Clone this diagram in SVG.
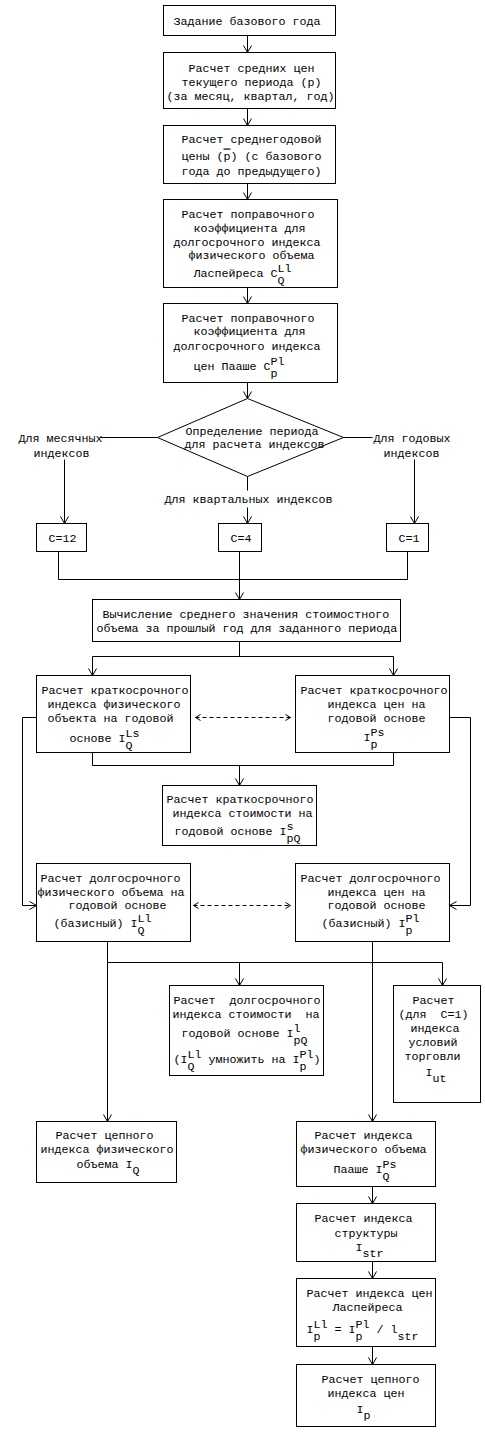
<svg xmlns="http://www.w3.org/2000/svg" width="485" height="1433" viewBox="0 0 485 1433">
<style>
.b{fill:#fff;stroke:#000;stroke-width:1}
.l{fill:none;stroke:#000;stroke-width:1}
.a{marker-end:url(#ah)}
.d{fill:none;stroke:#000;stroke-width:1;stroke-dasharray:4 3;marker-start:url(#ds);marker-end:url(#de)}
text{font-family:"Liberation Mono","DejaVu Sans Mono",monospace;font-size:11.67px;fill:#000}
</style>
<defs>
<marker id="ah" markerUnits="userSpaceOnUse" markerWidth="12" markerHeight="12" viewBox="0 0 12 12" refX="9" refY="6" orient="auto"><path d="M2,2 L9,6 L2,10" fill="none" stroke="#000" stroke-width="1"/></marker>
<marker id="de" markerUnits="userSpaceOnUse" markerWidth="10" markerHeight="10" viewBox="0 0 10 10" refX="7" refY="5" orient="auto"><path d="M2,2 L7,5 L2,8" fill="none" stroke="#000" stroke-width="1"/></marker>
<marker id="ds" markerUnits="userSpaceOnUse" markerWidth="10" markerHeight="10" viewBox="0 0 10 10" refX="3" refY="5" orient="auto"><path d="M8,2 L3,5 L8,8" fill="none" stroke="#000" stroke-width="1"/></marker>
</defs>
<rect width="485" height="1433" fill="#fff"/>
<g transform="translate(0.5,0.5)">
<g id="connectors">
<path class="l a" d="M247,35 V52"/>
<path class="l a" d="M247,108 V125"/>
<path class="l a" d="M247,183 V199"/>
<path class="l a" d="M247,287 V303"/>
<path class="l a" d="M247,382 V398"/>
<path class="l" d="M157,437 H100"/>
<path class="l a" d="M64,459 V523"/>
<path class="l" d="M343,437 H372"/>
<path class="l a" d="M414,459 V523"/>
<path class="l" d="M247,476 V490"/>
<path class="l a" d="M247,507 V523"/>
<path class="l" d="M58,551 V579 H407 V551"/>
<path class="l" d="M239,551 V579"/>
<path class="l a" d="M239,579 V599"/>
<path class="l" d="M239,641 V656"/>
<path class="l a" d="M92,656 V675"/>
<path class="l a" d="M92,656 H393 V675"/>
<path class="d" d="M195,717 H290"/>
<path class="l" d="M92,752 V765 H393 V752"/>
<path class="l a" d="M239,765 V785"/>
<path class="l a" d="M36,717 H22 V905 H36"/>
<path class="l a" d="M449,717 H470 V905 H449"/>
<path class="d" d="M193,905 H290"/>
<path class="l a" d="M107,941 V1121"/>
<path class="l" d="M107,962 H442"/>
<path class="l a" d="M239,962 V985"/>
<path class="l a" d="M442,962 V985"/>
<path class="l a" d="M372,941 V1121"/>
<path class="l a" d="M372,1186 V1203"/>
<path class="l a" d="M372,1261 V1278"/>
<path class="l a" d="M372,1346 V1364"/>
</g>
<g id="n1"><rect class="b" x="163" y="5" width="172" height="30"/>
<text x="173" y="24">Задание базового года</text></g>
<g id="n2"><rect class="b" x="163" y="52" width="172" height="56"/>
<text x="188" y="71">Расчет средних цен</text>
<text x="181" y="85">текущего периода (p)</text>
<text x="166" y="99">(за месяц, квартал, год)</text></g>
<g id="n3"><rect class="b" x="163" y="125" width="172" height="58"/>
<text x="181" y="142">Расчет среднегодовой</text>
<text x="181" y="159">цены (<tspan text-decoration="overline">p</tspan>) (с базового</text>
<text x="181" y="174">года до предыдущего)</text></g>
<g id="n4"><rect class="b" x="163" y="199" width="174" height="88"/>
<text x="181" y="217">Расчет поправочного</text>
<text x="193" y="231">коэффициента для</text>
<text x="173" y="245">долгосрочного индекса</text>
<text x="188" y="258">физического объема</text>
<text x="193" y="276">Ласпейреса C<tspan x="277" y="271.5">Ll</tspan><tspan x="277" y="283.5">Q</tspan></text></g>
<g id="n5"><rect class="b" x="163" y="303" width="174" height="79"/>
<text x="181" y="321">Расчет поправочного</text>
<text x="193" y="334">коэффициента для</text>
<text x="173" y="349">долгосрочного индекса</text>
<text x="193" y="369">цен Пааше C<tspan x="270" y="364">Pl</tspan><tspan x="270" y="376">p</tspan></text></g>
<g id="n6"><polygon class="b" points="247,398 343,437 247,476 157,437"/>
<text x="185" y="434">Определение периода</text>
<text x="184" y="447">для расчета индексов</text></g>
<g id="lbl-month"><text x="18" y="441">Для месячных</text>
<text x="33" y="456">индексов</text></g>
<g id="lbl-year"><text x="373" y="441">Для годовых</text>
<text x="383" y="456">индексов</text></g>
<g id="lbl-quarter"><text x="164" y="502">Для квартальных индексов</text></g>
<g id="c12"><rect class="b" x="36" y="523" width="50" height="28"/>
<text x="48" y="541">C=12</text></g>
<g id="c4"><rect class="b" x="218" y="523" width="43" height="28"/>
<text x="230" y="541">C=4</text></g>
<g id="c1"><rect class="b" x="386" y="523" width="42" height="28"/>
<text x="398" y="541">C=1</text></g>
<g id="n7"><rect class="b" x="92" y="599" width="308" height="42"/>
<text x="102" y="617">Вычисление среднего значения стоимостного</text>
<text x="96" y="631">объема за прошлый год для заданного периода</text></g>
<g id="n8"><rect class="b" x="36" y="675" width="154" height="77"/>
<text x="41" y="693">Расчет краткосрочного</text>
<text x="47" y="707">индекса физического</text>
<text x="47" y="721">объекта на годовой</text>
<text x="69" y="741">основе I<tspan x="125" y="736">Ls</tspan><tspan x="125" y="748">Q</tspan></text></g>
<g id="n9"><rect class="b" x="295" y="675" width="154" height="77"/>
<text x="300" y="693">Расчет краткосрочного</text>
<text x="327" y="707">индекса цен на</text>
<text x="327" y="721">годовой основе</text>
<text x="363" y="740">I<tspan x="370" y="735">Ps</tspan><tspan x="370" y="747">p</tspan></text></g>
<g id="n10"><rect class="b" x="162" y="785" width="154" height="60"/>
<text x="166" y="802">Расчет краткосрочного</text>
<text x="172" y="816">индекса стоимости на</text>
<text x="174" y="834">годовой основе I<tspan x="286" y="829.5">s</tspan><tspan x="286" y="841.5">pQ</tspan></text></g>
<g id="n11"><rect class="b" x="36" y="863" width="154" height="78"/>
<text x="40" y="881">Расчет долгосрочного</text>
<text x="37" y="895">физического объема на</text>
<text x="68" y="908">годовой основе</text>
<text x="53" y="926">(базисный) I<tspan x="137" y="921.5">Ll</tspan><tspan x="137" y="933.5">Q</tspan></text></g>
<g id="n12"><rect class="b" x="295" y="863" width="154" height="78"/>
<text x="300" y="881">Расчет долгосрочного</text>
<text x="327" y="895">индекса цен на</text>
<text x="327" y="908">годовой основе</text>
<text x="321" y="926">(базисный) I<tspan x="405" y="921.5">Pl</tspan><tspan x="405" y="933.5">p</tspan></text></g>
<g id="n13"><rect class="b" x="169" y="985" width="154" height="90"/>
<text x="173" y="1003" xml:space="preserve">Расчет  долгосрочного</text>
<text x="172" y="1017" xml:space="preserve">индекса стоимости  на</text>
<text x="181" y="1036">годовой основе I<tspan x="293" y="1031">l</tspan><tspan x="293" y="1043">pQ</tspan></text>
<text x="173" y="1062">(I<tspan x="187" y="1057">Ll</tspan><tspan x="187" y="1069">Q</tspan><tspan x="201" y="1062" xml:space="preserve"> умножить на I</tspan><tspan x="299" y="1057">Pl</tspan><tspan x="299" y="1069">p</tspan><tspan x="313" y="1062">)</tspan></text></g>
<g id="n14"><rect class="b" x="393" y="985" width="87" height="117"/>
<text x="412" y="1003">Расчет</text>
<text x="398" y="1017" xml:space="preserve">(для  C=1)</text>
<text x="410" y="1031">индекса</text>
<text x="408" y="1045">условий</text>
<text x="404" y="1059">торговли</text>
<text x="425" y="1075">I<tspan x="432" y="1081">ut</tspan></text></g>
<g id="n15"><rect class="b" x="36" y="1121" width="140" height="61"/>
<text x="55" y="1138">Расчет цепного</text>
<text x="40" y="1152">индекса физического</text>
<text x="76" y="1167">объема I<tspan x="132" y="1173">Q</tspan></text></g>
<g id="n16"><rect class="b" x="296" y="1121" width="139" height="65"/>
<text x="314" y="1138">Расчет индекса</text>
<text x="300" y="1152">физического объема</text>
<text x="333" y="1172">Пааше I<tspan x="382" y="1167">Ps</tspan><tspan x="382" y="1179">Q</tspan></text></g>
<g id="n17"><rect class="b" x="296" y="1203" width="139" height="58"/>
<text x="314" y="1221">Расчет индекса</text>
<text x="334" y="1236">структуры</text>
<text x="355" y="1250">I<tspan x="362" y="1256">str</tspan></text></g>
<g id="n18"><rect class="b" x="296" y="1278" width="139" height="68"/>
<text x="306" y="1296">Расчет индекса цен</text>
<text x="332" y="1310">Ласпейреса</text>
<text x="306" y="1332">I<tspan x="313" y="1327">Ll</tspan><tspan x="313" y="1339">p</tspan><tspan x="327" y="1332" xml:space="preserve"> = I</tspan><tspan x="355" y="1327">Pl</tspan><tspan x="355" y="1339">p</tspan><tspan x="369" y="1332" xml:space="preserve"> / l</tspan><tspan x="397" y="1339">str</tspan></text></g>
<g id="n19"><rect class="b" x="296" y="1364" width="139" height="62"/>
<text x="321" y="1382">Расчет цепного</text>
<text x="327" y="1396">индекса цен</text>
<text x="356" y="1412">I<tspan x="363" y="1418">p</tspan></text></g>
</g>
</svg>
